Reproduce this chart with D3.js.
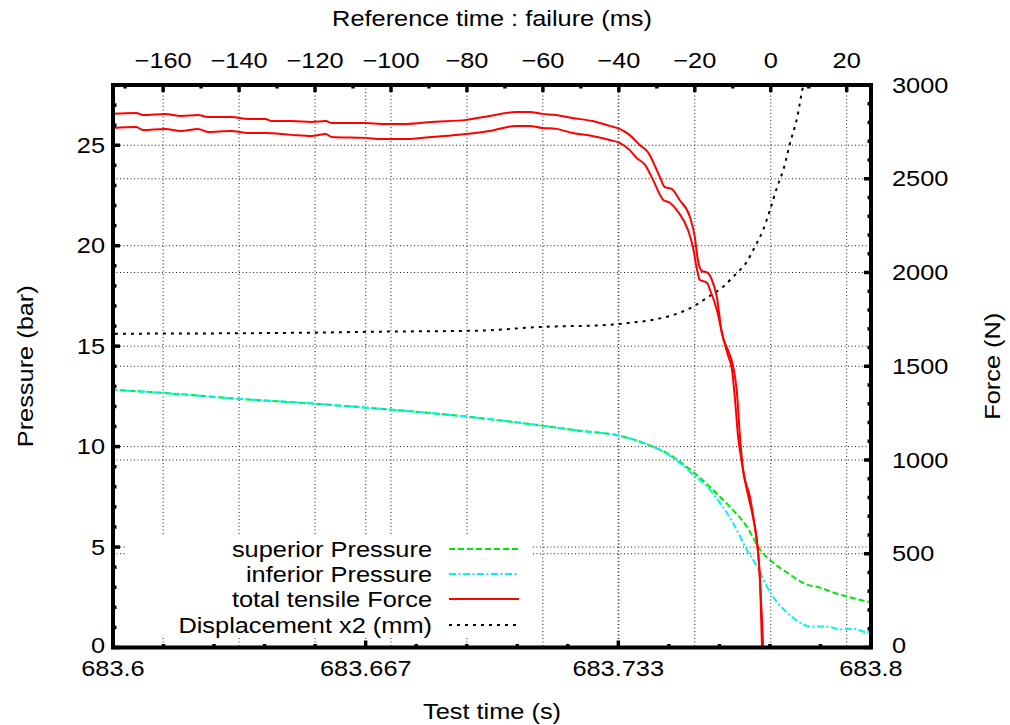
<!DOCTYPE html>
<html><head><meta charset="utf-8">
<script src="https://cdn.jsdelivr.net/npm/d3@7/dist/d3.min.js"></script>
<style>
html,body{margin:0;padding:0;background:#fff;}
text{font-family:"Liberation Sans",Arial,sans-serif;}
</style></head>
<body>
<svg id="chart" width="1010" height="725"></svg>
<script>
// ---------- data (reference time in ms relative to failure) ----------
const forceUpperTime = [-173.7,-167.1,-165.3,-159.5,-155.3,-150.8,-148.2,-142.1,-137.6,-133.1,-131.5,-126.2,-120.9,-117.2,-115.6,-106.6,-102.4,-96.0,-89.2,-80.2,-74.1,-67.0,-63.6,-60.2,-56.5,-52.2,-47.0,-42.4,-39.8,-37.2,-34.5,-32.4,-29.2,-27.9,-26.1,-24.0,-21.3,-20.0,-19.2,-18.2,-16.6,-15.5,-14.2,-12.9,-11.3,-10.0,-8.9,-8.1,-7.3,-5.5,-4.2,-3.4,-2.8,-2.3,-2.0];
const forceUpper = [2846,2851,2840,2846,2835,2840,2830,2830,2819,2819,2808,2808,2803,2808,2797,2797,2792,2792,2803,2814,2835,2856,2856,2846,2840,2824,2808,2782,2766,2734,2680,2643,2510,2456,2446,2387,2297,2190,2068,2009,1998,1961,1870,1679,1588,1508,1359,1124,948,805,645,522,346,149,0];
const forceLowerTime = [-173.2,-167.1,-165.3,-159.5,-155.3,-150.8,-148.2,-142.1,-137.6,-133.1,-126.2,-120.9,-117.2,-115.6,-106.6,-102.4,-96.0,-89.2,-80.2,-74.1,-67.0,-63.6,-60.2,-56.5,-52.2,-47.0,-42.4,-39.8,-37.2,-35.3,-33.1,-31.0,-28.3,-26.5,-24.4,-21.8,-20.5,-19.4,-18.7,-16.8,-16.0,-14.2,-12.6,-11.3,-10.2,-9.4,-8.6,-7.6,-6.3,-4.7,-3.6,-2.8,-2.3];
const forceLower = [2771,2776,2760,2766,2755,2766,2750,2755,2744,2744,2734,2728,2739,2723,2718,2712,2712,2723,2739,2755,2782,2782,2771,2766,2744,2728,2707,2691,2654,2611,2574,2494,2387,2371,2323,2227,2137,2014,1961,1945,1908,1801,1657,1561,1481,1321,1124,986,842,698,560,346,0];

const supPressTime = [-173.8,-160.6,-140.2,-120.4,-106.6,-79.9,-60.1,-50.4,-39.8,-31.1,-26.6,-24.0,-20.5,-15.3,-10.8,-6.3,-2.8,0.6,4.3,9.5,13.0,16.4,20.1,25.4,26.4];
const supPress = [12.83,12.68,12.38,12.14,11.94,11.49,11.04,10.79,10.54,10.0,9.60,9.25,8.75,7.86,7.01,6.02,4.87,4.23,3.73,3.13,2.98,2.74,2.54,2.29,2.25];
const infPressTime = [-173.8,-160.6,-140.2,-120.4,-106.6,-79.9,-60.1,-50.4,-39.8,-31.1,-26.6,-24.0,-20.5,-16.8,-13.4,-10.0,-6.3,-3.6,-1.0,1.7,4.3,7.7,10.4,14.9,18.3,21.7,25.4,26.4];
const infPress = [12.83,12.68,12.38,12.14,11.94,11.49,11.04,10.79,10.54,10.0,9.55,9.20,8.60,8.01,7.21,6.22,4.87,4.03,3.03,2.24,1.74,1.24,1.04,1.04,0.90,0.94,0.75,0.90];

const dispTime = [-172.7,-121.7,-104.0,-77.6,-60.1,-42.4,-37.2,-32.7,-28.5,-24.0,-20.5,-16.8,-12.6,-9.4,-6.3,-4.2,-2.0,-0.2,1.7,3.3,5.1,7.0,8.3,9.1];
const disp = [15.62,15.67,15.72,15.77,15.96,16.06,16.16,16.26,16.41,16.66,16.96,17.41,17.95,18.55,19.20,19.94,20.79,21.78,22.93,23.77,25.12,26.41,27.75,28.35];

const xTickValues = [683.6, 683.6667, 683.7333, 683.8];
const xTickLabels = ["683.6","683.667","683.733","683.8"];
const x2TickValues = [-160,-140,-120,-100,-80,-60,-40,-20,0,20];
const yTickValues = [0,5,10,15,20,25];
const y2TickValues = [0,500,1000,1500,2000,2500,3000];
const legendNames = ["superior Pressure","inferior Pressure","total tensile Force","Displacement x2 (mm)"];

// ---------- layout ----------
const L = 113, R = 871, T = 85, B = 647.5;
const FS = 21.5, SX = 1.18;
const svg = d3.select("#chart");

const x = d3.scaleLinear().domain([683.6, 683.8]).range([L, R]);
const x2 = d3.scaleLinear().domain([-173.2, 26.4]).range([L, R]);
const y = d3.scaleLinear().domain([0, 28]).range([B, T]);
const y2 = d3.scaleLinear().domain([0, 3000]).range([B, T]);

// grid
const grid = svg.append("g").attr("stroke", "#222").attr("stroke-width", 1).attr("stroke-dasharray", "1,2.5");
xTickValues.slice(1, -1).forEach(v => grid.append("line").attr("x1", x(v)).attr("x2", x(v)).attr("y1", T).attr("y2", B));
x2TickValues.forEach(v => grid.append("line").attr("x1", x2(v)).attr("x2", x2(v)).attr("y1", T).attr("y2", B));
yTickValues.slice(1).forEach(v => grid.append("line").attr("x1", L).attr("x2", R).attr("y1", y(v)).attr("y2", y(v)));
y2TickValues.slice(1, -1).forEach(v => grid.append("line").attr("x1", L).attr("x2", R).attr("y1", y2(v)).attr("y2", y2(v)));

// legend background (opaque key)
svg.append("rect").attr("x", 127).attr("y", 536).attr("width", 406).attr("height", 100).attr("fill", "#fff");

// clip
svg.append("clipPath").attr("id", "clip").append("rect").attr("x", L).attr("y", T).attr("width", R - L).attr("height", B - T);
const plot = svg.append("g").attr("clip-path", "url(#clip)");

const styles = [
  {color: "#00e800", dash: "6,3", w: 2},
  {color: "#00f4f4", dash: "7,2.5,2,2.5", w: 2},
  {color: "#ff0000", dash: null, w: 2},
  {color: "#000", dash: "3,5", w: 2}
];

function drawLine(times, vals, ys, st) {
  const pts = times.map((t, i) => [x2(t), ys(vals[i])]);
  const p = plot.append("path").attr("d", d3.line().curve(d3.curveMonotoneX)(pts)).attr("fill", "none")
    .attr("stroke", st.color).attr("stroke-width", st.w).attr("stroke-linejoin", "round");
  if (st.dash) p.attr("stroke-dasharray", st.dash);
}
drawLine(dispTime, disp, y, styles[3]);
drawLine(supPressTime, supPress, y, styles[0]);
drawLine(infPressTime, infPress, y, styles[1]);
drawLine(forceUpperTime, forceUpper, y2, styles[2]);
drawLine(forceLowerTime, forceLower, y2, styles[2]);

// ticks (inward)
const tk = svg.append("g").attr("stroke", "#000").attr("stroke-width", 3.5);
const MAJ = 7, MIN = 3.5;
d3.range(683.6, 683.8001, 0.2 / 15).forEach((v, i) => {
  const len = i % 5 === 0 ? MAJ : MIN;
  tk.append("line").attr("x1", x(v)).attr("x2", x(v)).attr("y1", B).attr("y2", B - len);
});
d3.range(-170, 26, 10).forEach(v => {
  const len = v % 20 === 0 ? MAJ : MIN;
  tk.append("line").attr("x1", x2(v)).attr("x2", x2(v)).attr("y1", T).attr("y2", T + len);
});
d3.range(0, 28.01, 1).forEach(v => {
  const len = v % 5 === 0 ? MAJ : MIN;
  tk.append("line").attr("x1", L).attr("x2", L + len).attr("y1", y(v)).attr("y2", y(v));
});
d3.range(0, 3001, 100).forEach(v => {
  const len = v % 500 === 0 ? MAJ : MIN;
  tk.append("line").attr("x1", R).attr("x2", R - len).attr("y1", y2(v)).attr("y2", y2(v));
});

// frame
svg.append("rect").attr("x", L).attr("y", T).attr("width", R - L).attr("height", B - T)
  .attr("fill", "none").attr("stroke", "#000").attr("stroke-width", 4);

// text helper: horizontally widened real text
const lab = svg.append("g").attr("font-size", FS).attr("fill", "#000");
function txt(px, py, s, anchor, rot) {
  const g = lab.append("g").attr("transform", `translate(${px},${py})` + (rot ? ` rotate(${rot})` : "") + ` scale(${SX},1)`);
  g.append("text").attr("x", 0).attr("y", 0).attr("text-anchor", anchor).text(s);
}

// tick labels
xTickValues.forEach((v, i) => txt(x(v), 676, xTickLabels[i], "middle"));
x2TickValues.forEach(v => txt(x2(v), 68, v < 0 ? "\u2212" + Math.abs(v) : String(v), "middle"));
yTickValues.forEach(v => txt(105, y(v) + (v === 0 ? 5.5 : 7.5), String(v), "end"));
y2TickValues.forEach(v => txt(892, y2(v) + (v === 0 ? 5.5 : 7.5), String(v), "start"));

// axis titles
txt((L + R) / 2, 719, "Test time (s)", "middle");
txt((L + R) / 2, 26, "Reference time : failure (ms)", "middle");
txt(33, (T + B) / 2, "Pressure (bar)", "middle", -90);
txt(1000, (T + B) / 2, "Force (N)", "middle", -90);

// legend
const legY = [549, 574, 599, 625];
legendNames.forEach((n, i) => {
  txt(432, legY[i] + 7.5, n, "end");
  const s = styles[i];
  const ln = svg.append("line").attr("x1", 449).attr("x2", 519).attr("y1", legY[i]).attr("y2", legY[i])
    .attr("stroke", s.color).attr("stroke-width", s.w);
  if (s.dash) ln.attr("stroke-dasharray", s.dash);
});
</script>
</body></html>
